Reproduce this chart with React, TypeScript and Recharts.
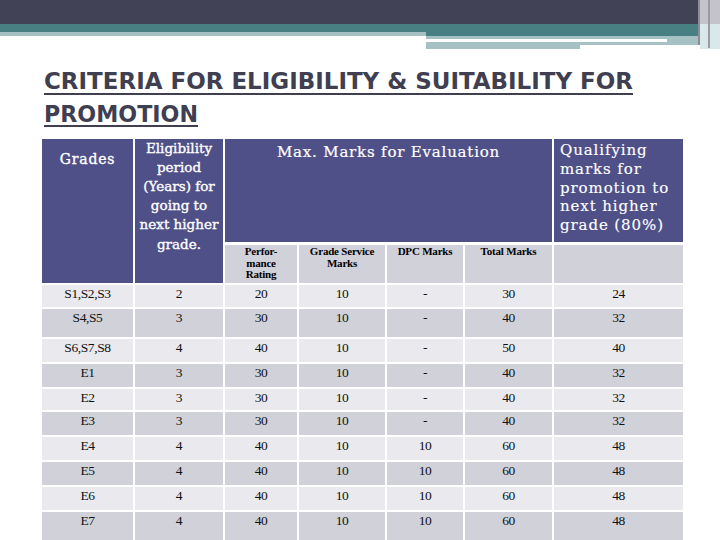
import { ComposedChart, XAxis, YAxis, ReferenceArea } from "recharts";

// table contents
const grades = ["S1,S2,S3", "S4,S5", "S6,S7,S8", "E1", "E2", "E3", "E4", "E5", "E6", "E7"];
const eligibilityYears = [2, 3, 4, 3, 3, 3, 4, 4, 4, 4];
const performanceRating = [20, 30, 40, 30, 30, 30, 40, 40, 40, 40];
const gradeServiceMarks = [10, 10, 10, 10, 10, 10, 10, 10, 10, 10];
const dpcMarks = ["-", "-", "-", "-", "-", "-", 10, 10, 10, 10];
const totalMarks = [30, 40, 50, 40, 40, 40, 60, 60, 60, 60];
const qualifyingMarks = [24, 32, 40, 32, 32, 32, 48, 48, 48, 48];

const gradesHeader = ["Grades"];
const eligibilityHeader = ["Eligibility", "period", "(Years) for", "going to", "next higher", "grade."];
const evaluationHeader = ["Max. Marks for Evaluation"];
const qualifyingHeader = ["Qualifying", "marks for", "promotion to", "next higher", "grade (80%)"];
const subHeaders = [["Perfor-", "mance", "Rating"], ["Grade Service", "Marks"], ["DPC Marks"], ["Total Marks"], []];

// layout of the slide (pixels)
const colLeft = [42, 135, 225, 299, 387, 465, 554];
const colRight = [133, 223, 297, 385, 463, 552, 683];
const rowTop = [285, 309, 339, 364, 389, 412, 437, 462, 487, 512];
const rowBottom = [307, 337, 362, 387, 410, 435, 460, 485, 510, 540];

const HEADER = "#4f5088";
const ROW_LIGHT = "#e9e9ee";
const ROW_DARK = "#d0d1d9";
const SERIF = "'DejaVu Serif', serif";
const TIMES = "'Liberation Serif', 'Times New Roman', serif";

type TextOpts = {
  lines: (string | number)[];
  align?: "middle" | "start";
  dx?: number;
  baseline: number;
  lineHeight?: number;
  size: number;
  family: string;
  weight?: string | number;
  color: string;
  spacing?: number;
  stroke?: number;
};

function cellShape(fill: string, t?: TextOpts) {
  return (p: any) => {
    const { x, y, width, height } = p;
    return (
      <g>
        <rect x={x} y={y} width={width} height={height} fill={fill} />
        {t &&
          t.lines.map((line, i) => (
            <text
              key={i}
              x={t.align === "start" ? x + (t.dx ?? 0) : x + width / 2}
              y={y + t.baseline + i * (t.lineHeight ?? 0)}
              textAnchor={t.align ?? "middle"}
              fontFamily={t.family}
              fontSize={t.size}
              fontWeight={t.weight ?? "normal"}
              letterSpacing={t.spacing ?? 0}
              fill={t.color}
              stroke={t.stroke ? t.color : "none"}
              strokeWidth={t.stroke ?? 0}
            >
              {line}
            </text>
          ))}
      </g>
    );
  };
}

const rows = grades.map((g, i) => ({
  grade: g,
  years: eligibilityYears[i],
  perf: performanceRating[i],
  gsm: gradeServiceMarks[i],
  dpc: dpcMarks[i],
  total: totalMarks[i],
  qual: qualifyingMarks[i],
}));

function TopBars() {
  const bar = (l: number, t: number, w: number, h: number, c: string) => (
    <div style={{ position: "absolute", left: l, top: t, width: w, height: h, background: c }} />
  );
  return (
    <>
      {bar(0, 0, 700, 24, "#424256")}
      {bar(0, 24, 700, 8, "#477f83")}
      {bar(426, 32, 274, 4, "#477f83")}
      {bar(0, 32, 426, 4, "#a6c1c4")}
      {bar(426, 36, 241, 3, "#a6c1c4")}
      {bar(426, 42, 241, 3, "#a6c1c4")}
      {bar(426, 45, 154, 4, "#a6c1c4")}
      {bar(667, 36, 33, 9, "#a6c1c4")}
      {bar(700, 0, 20, 24, "#c4c3cc")}
      {bar(700, 24, 20, 25, "#d9e8e8")}
      {bar(698, 0, 2, 45, "#8c8c9a")}
      {bar(708, 0, 2, 48, "#9a9aa6")}
    </>
  );
}

function Title() {
  const font = "'DejaVu Sans Condensed', 'DejaVu Sans', sans-serif";
  return (
    <svg width={720} height={140} style={{ position: "absolute", left: 0, top: 0 }}>
      <text x={44} y={89} fontFamily={font} fontWeight="bold" fontSize={23} fill="#3f3f51" textLength={589} lengthAdjust="spacingAndGlyphs">
        CRITERIA FOR ELIGIBILITY &amp; SUITABILITY FOR
      </text>
      <rect x={44} y={93} width={589} height={2} fill="#3f3f51" />
      <text x={44} y={121.5} fontFamily={font} fontWeight="bold" fontSize={23} fill="#3f3f51" textLength={154} lengthAdjust="spacingAndGlyphs">
        PROMOTION
      </text>
      <rect x={44} y={125} width={154} height={2} fill="#3f3f51" />
    </svg>
  );
}

export default function App() {
  const dataCols: (keyof (typeof rows)[number])[] = ["grade", "years", "perf", "gsm", "dpc", "total", "qual"];

  return (
    <div style={{ position: "absolute", left: 0, top: 0, width: 720, height: 540, background: "#fff", overflow: "hidden" }}>
      <TopBars />
      <Title />
      <div style={{ position: "absolute", left: 0, top: 0 }}>
        <ComposedChart width={720} height={540} margin={{ top: 0, right: 0, bottom: 0, left: 0 }}>
          <XAxis xAxisId="px" type="number" dataKey="x" domain={[0, 720]} hide allowDataOverflow />
          <YAxis yAxisId="py" type="number" dataKey="y" domain={[0, 540]} reversed hide allowDataOverflow />

          {/* header block */}
          <ReferenceArea
            xAxisId="px" yAxisId="py"
            x1={colLeft[0]} x2={colRight[0]} y1={139} y2={283} ifOverflow="visible"
            shape={cellShape(HEADER, { lines: gradesHeader, baseline: 25, size: 14, family: SERIF, color: "#ffffff", spacing: 0.8, stroke: 0.35 })}
          />
          <ReferenceArea
            xAxisId="px" yAxisId="py"
            x1={colLeft[1]} x2={colRight[1]} y1={139} y2={283} ifOverflow="visible"
            shape={cellShape(HEADER, { lines: eligibilityHeader, baseline: 14, lineHeight: 19.1, size: 13.5, family: SERIF, color: "#ffffff", stroke: 0.35 })}
          />
          <ReferenceArea
            xAxisId="px" yAxisId="py"
            x1={colLeft[2]} x2={colRight[5]} y1={139} y2={242} ifOverflow="visible"
            shape={cellShape(HEADER, { lines: evaluationHeader, baseline: 18, size: 15, family: SERIF, color: "#ffffff", spacing: 0.8, stroke: 0.2 })}
          />
          <ReferenceArea
            xAxisId="px" yAxisId="py"
            x1={colLeft[6]} x2={colRight[6]} y1={139} y2={242} ifOverflow="visible"
            shape={cellShape(HEADER, { lines: qualifyingHeader, align: "start", dx: 6, baseline: 16, lineHeight: 18.8, size: 15, family: SERIF, color: "#ffffff", spacing: 0.9, stroke: 0.15 })}
          />
          {subHeaders.map((lines, j) => (
            <ReferenceArea
              key={`sub-${j}`}
              xAxisId="px" yAxisId="py"
              x1={colLeft[j + 2]} x2={colRight[j + 2]} y1={245} y2={283} ifOverflow="visible"
              shape={cellShape(ROW_DARK, { lines, baseline: 10, lineHeight: 11.5, size: 11, family: TIMES, weight: "bold", color: "#000000", spacing: -0.2 })}
            />
          ))}

          {/* body */}
          {rows.map((r, i) =>
            dataCols.map((k, j) => (
              <ReferenceArea
                key={`c-${i}-${j}`}
                xAxisId="px" yAxisId="py"
                x1={colLeft[j]} x2={colRight[j]} y1={rowTop[i]} y2={rowBottom[i]} ifOverflow="visible"
                shape={cellShape(i % 2 === 0 ? ROW_LIGHT : ROW_DARK, { lines: [r[k]], baseline: 13, size: 13.5, family: TIMES, color: "#111111", spacing: -0.4 })}
              />
            ))
          )}
        </ComposedChart>
      </div>
    </div>
  );
}
